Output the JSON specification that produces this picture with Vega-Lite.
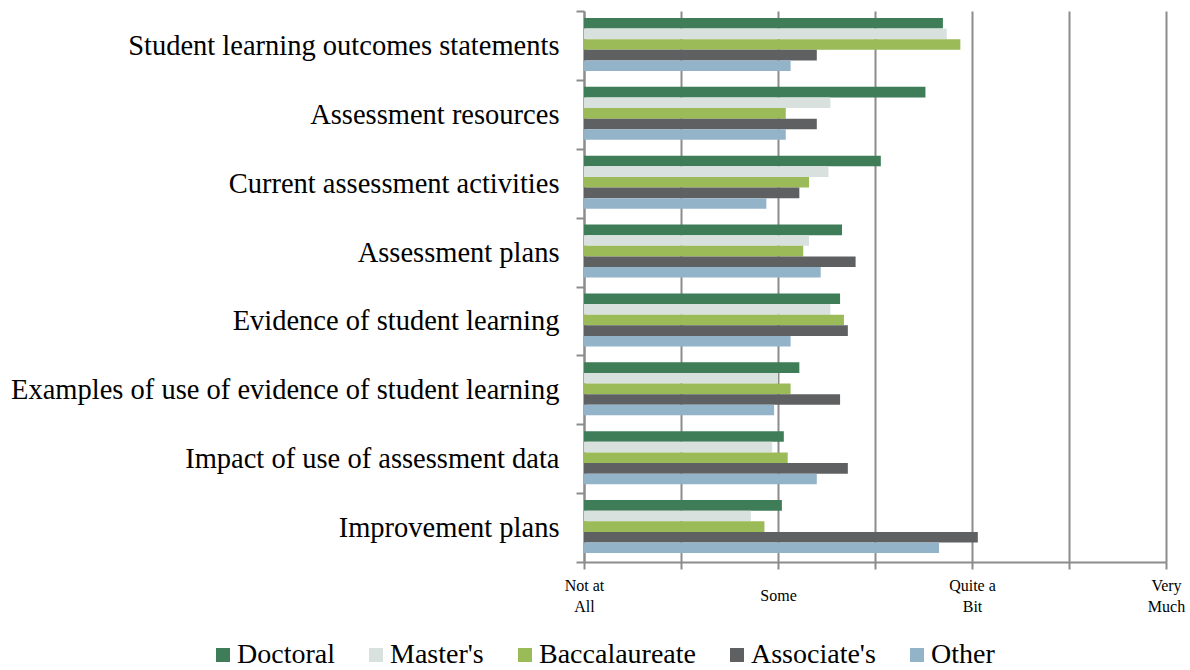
{
  "$schema": "https://vega.github.io/schema/vega-lite/v6.json",
  "width": 582,
  "height": 551,
  "autosize": "none",
  "padding": {"left": 584, "top": 11, "right": 24, "bottom": 108},
  "background": "white",
  "config": {"view": {"stroke": null}, "font": "Liberation Serif"},
  "data": {
    "values": [
      {"item": "Student learning outcomes statements", "series": "Doctoral", "value": 2.85},
      {"item": "Student learning outcomes statements", "series": "Master's", "value": 2.87},
      {"item": "Student learning outcomes statements", "series": "Baccalaureate", "value": 2.94},
      {"item": "Student learning outcomes statements", "series": "Associate's", "value": 2.2},
      {"item": "Student learning outcomes statements", "series": "Other", "value": 2.065},
      {"item": "Assessment resources", "series": "Doctoral", "value": 2.76},
      {"item": "Assessment resources", "series": "Master's", "value": 2.27},
      {"item": "Assessment resources", "series": "Baccalaureate", "value": 2.04},
      {"item": "Assessment resources", "series": "Associate's", "value": 2.2},
      {"item": "Assessment resources", "series": "Other", "value": 2.04},
      {"item": "Current assessment activities", "series": "Doctoral", "value": 2.53},
      {"item": "Current assessment activities", "series": "Master's", "value": 2.26},
      {"item": "Current assessment activities", "series": "Baccalaureate", "value": 2.16},
      {"item": "Current assessment activities", "series": "Associate's", "value": 2.11},
      {"item": "Current assessment activities", "series": "Other", "value": 1.94},
      {"item": "Assessment plans", "series": "Doctoral", "value": 2.33},
      {"item": "Assessment plans", "series": "Master's", "value": 2.16},
      {"item": "Assessment plans", "series": "Baccalaureate", "value": 2.13},
      {"item": "Assessment plans", "series": "Associate's", "value": 2.4},
      {"item": "Assessment plans", "series": "Other", "value": 2.22},
      {"item": "Evidence of student learning", "series": "Doctoral", "value": 2.32},
      {"item": "Evidence of student learning", "series": "Master's", "value": 2.27},
      {"item": "Evidence of student learning", "series": "Baccalaureate", "value": 2.34},
      {"item": "Evidence of student learning", "series": "Associate's", "value": 2.36},
      {"item": "Evidence of student learning", "series": "Other", "value": 2.065},
      {"item": "Examples of use of evidence of student learning", "series": "Doctoral", "value": 2.11},
      {"item": "Examples of use of evidence of student learning", "series": "Master's", "value": 2.0},
      {"item": "Examples of use of evidence of student learning", "series": "Baccalaureate", "value": 2.065},
      {"item": "Examples of use of evidence of student learning", "series": "Associate's", "value": 2.32},
      {"item": "Examples of use of evidence of student learning", "series": "Other", "value": 1.98},
      {"item": "Impact of use of assessment data", "series": "Doctoral", "value": 2.03},
      {"item": "Impact of use of assessment data", "series": "Master's", "value": 1.97},
      {"item": "Impact of use of assessment data", "series": "Baccalaureate", "value": 2.05},
      {"item": "Impact of use of assessment data", "series": "Associate's", "value": 2.36},
      {"item": "Impact of use of assessment data", "series": "Other", "value": 2.2},
      {"item": "Improvement plans", "series": "Doctoral", "value": 2.02},
      {"item": "Improvement plans", "series": "Master's", "value": 1.86},
      {"item": "Improvement plans", "series": "Baccalaureate", "value": 1.93},
      {"item": "Improvement plans", "series": "Associate's", "value": 3.03},
      {"item": "Improvement plans", "series": "Other", "value": 2.83}
    ]
  },
  "mark": {"type": "bar"},
  "encoding": {
    "y": {
      "field": "item",
      "type": "nominal",
      "sort": [
        "Student learning outcomes statements",
        "Assessment resources",
        "Current assessment activities",
        "Assessment plans",
        "Evidence of student learning",
        "Examples of use of evidence of student learning",
        "Impact of use of assessment data",
        "Improvement plans"
      ],
      "scale": {"paddingInner": 0, "paddingOuter": 0},
      "axis": {
        "title": null,
        "tickBand": "extent",
        "labelFont": "Liberation Serif",
        "labelFontSize": 28.5,
        "labelColor": "#000000",
        "labelPadding": 17,
        "labelLimit": 0,
        "tickSize": 8,
        "tickColor": "#8c8c8c",
        "tickWidth": 2,
        "domainColor": "#8c8c8c",
        "domainWidth": 2,
        "grid": false
      }
    },
    "yOffset": {
      "field": "series",
      "type": "nominal",
      "sort": ["Doctoral", "Master's", "Baccalaureate", "Associate's", "Other"],
      "scale": {"paddingInner": 0, "paddingOuter": 0.75, "align": 0.44}
    },
    "x": {
      "field": "value",
      "type": "quantitative",
      "scale": {"domain": [1, 4], "nice": false, "zero": false},
      "axis": {
        "title": null,
        "values": [1, 1.5, 2, 2.5, 3, 3.5, 4],
        "grid": true,
        "gridColor": "#8c8c8c",
        "gridWidth": 2,
        "tickSize": 7,
        "tickColor": "#8c8c8c",
        "tickWidth": 2,
        "domainColor": "#8c8c8c",
        "domainWidth": 2,
        "labelFont": "Liberation Serif",
        "labelFontSize": 16,
        "labelColor": "#000000",
        "labelBaseline": "top",
        "labelAlign": "center",
        "labelLineHeight": 21,
        "labelFlush": false,
        "labelOverlap": false,
        "labelPadding": {"condition": {"test": "datum.value == 2", "value": 18}, "value": 8},
        "labelExpr": "datum.value == 1 ? ['Not at', 'All'] : datum.value == 2 ? 'Some' : datum.value == 3 ? ['Quite a', 'Bit'] : datum.value == 4 ? ['Very', 'Much'] : ''"
      }
    },
    "x2": {"datum": 1},
    "color": {
      "field": "series",
      "type": "nominal",
      "sort": ["Doctoral", "Master's", "Baccalaureate", "Associate's", "Other"],
      "scale": {
        "domain": ["Doctoral", "Master's", "Baccalaureate", "Associate's", "Other"],
        "range": ["#3f7d58", "#d9e1df", "#9bbb59", "#5f6062", "#93b3c9"]
      },
      "legend": {
        "title": null,
        "orient": "none",
        "legendX": -375,
        "legendY": 630,
        "direction": "horizontal",
        "padding": 0,
        "symbolType": "square",
        "symbolSize": 196,
        "symbolStrokeWidth": 0,
        "labelFont": "Liberation Serif",
        "labelFontSize": 28,
        "labelColor": "#000000",
        "labelLimit": 0,
        "labelOffset": 0,
        "columnPadding": 27
      }
    }
  }
}
